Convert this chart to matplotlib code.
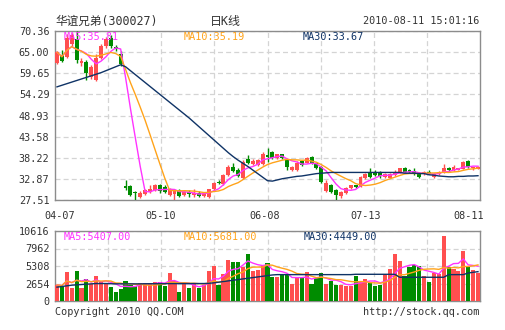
import numpy as np
import pandas as pd
import matplotlib
matplotlib.use("Agg")
import matplotlib.pyplot as plt

# ---- daily K-line (87 trading days, 04-07 .. 08-11) ----
opens = [62.2, 64.4, 63.7, 67.0, 68.3, 62.2, 62.6, 58.8, 57.9, 63.5, 66.6, 68.5, 66.3, 64.5,
         31.1, 31.0, 29.5, 28.3, 29.0, 29.6, 30.0, 31.3, 30.8, 28.9, 29.0, 30.0, 28.8, 29.6,
         28.8, 29.4, 28.6, 28.3, 30.3, 32.0, 31.6, 33.8, 36.0, 35.2, 33.0, 38.0, 36.6, 36.4,
         36.6, 39.0, 39.6, 38.1, 39.1, 37.7, 35.2, 35.0, 37.3, 37.0, 38.3, 36.8, 36.0, 29.8,
         31.3, 30.0, 28.4, 29.3, 30.5, 31.2, 30.8, 33.0, 34.4, 34.3, 34.3, 33.3, 33.2, 33.9,
         34.5, 35.5, 35.0, 34.9, 34.3, 34.0, 34.5, 33.4, 34.0, 34.6, 35.6, 35.1, 35.2, 35.4,
         37.3, 35.6, 35.4]
highs = [65.3, 65.5, 69.5, 69.8, 70.36, 63.5, 62.9, 61.8, 64.5, 67.0, 68.8, 69.3, 66.8, 65.3,
         32.6, 31.4, 29.7, 29.8, 30.4, 31.3, 31.6, 31.6, 31.2, 30.6, 30.0, 30.4, 30.0, 30.0,
         30.2, 29.8, 29.6, 30.3, 32.0, 32.5, 34.0, 36.3, 37.0, 35.5, 37.6, 39.0, 38.0, 37.8,
         39.6, 40.8, 40.0, 39.3, 39.3, 38.0, 36.1, 37.5, 37.6, 38.4, 38.6, 37.0, 36.2, 32.5,
         31.5, 30.3, 29.8, 30.9, 31.4, 31.3, 33.6, 34.3, 35.5, 35.2, 34.8, 34.3, 34.4, 35.0,
         35.7, 35.8, 35.4, 35.6, 34.5, 34.9, 35.0, 34.4, 34.9, 36.6, 36.0, 36.3, 35.7, 37.3,
         37.6, 36.0, 36.2]
lows = [61.9, 62.5, 63.5, 66.5, 62.2, 61.5, 58.0, 58.2, 57.6, 63.2, 66.0, 66.0, 65.3, 61.6,
        30.1, 28.6, 27.51, 28.0, 28.8, 29.3, 29.7, 29.2, 29.3, 28.5, 27.6, 28.3, 28.5, 28.2,
        28.3, 28.2, 28.2, 28.1, 30.0, 31.5, 31.4, 33.5, 34.5, 33.3, 32.8, 36.6, 36.3, 36.2,
        36.4, 37.2, 37.8, 37.9, 37.9, 35.2, 34.9, 34.9, 36.2, 36.9, 36.6, 35.3, 31.9, 29.6,
        29.4, 27.51, 28.1, 29.1, 30.4, 30.5, 30.7, 32.8, 33.2, 33.6, 33.2, 33.0, 33.0, 33.7,
        34.4, 34.3, 34.3, 33.9, 33.0, 33.8, 34.0, 33.1, 33.9, 34.4, 34.5, 34.9, 35.0, 35.3,
        35.7, 35.2, 35.3]
closes = [65.0, 62.7, 68.6, 69.3, 63.0, 62.8, 59.6, 61.3, 63.4, 66.5, 68.3, 66.5, 65.7, 62.0,
          30.5, 28.9, 29.3, 29.4, 30.1, 30.2, 31.2, 29.8, 29.6, 30.4, 29.9, 28.5, 29.6, 29.0,
          29.3, 28.6, 29.3, 30.2, 31.8, 31.8, 33.8, 35.8, 34.8, 33.6, 37.2, 36.9, 37.5, 37.6,
          39.3, 38.5, 38.2, 39.1, 38.1, 35.8, 36.0, 36.8, 36.4, 38.1, 36.8, 35.5, 32.2, 31.7,
          29.6, 28.8, 29.6, 30.6, 31.2, 30.7, 33.4, 34.0, 33.4, 33.9, 33.5, 34.1, 34.0, 34.7,
          35.5, 34.5, 34.6, 34.1, 33.4, 34.7, 34.0, 34.2, 34.7, 35.7, 35.0, 35.9, 35.5, 37.2,
          36.0, 35.9, 35.8]
volumes = [2430, 2280, 4450, 2000, 4550, 1900, 3290, 2580, 3790, 2930, 2700, 2170, 1420, 1820,
           3030, 2430, 2330, 2680, 2680, 2680, 2930, 2930, 2330, 4300, 3030, 1420, 2680, 2020,
           2680, 1920, 2430, 4550, 5360, 2430, 4040, 6220, 5910, 5910, 5200, 7130, 4600, 4700,
           5260, 5760, 3590, 3590, 3990, 4090, 2580, 3490, 3590, 4400, 2580, 3490, 4250, 2580,
           2980, 2480, 2380, 2220, 2220, 3840, 3030, 3340, 2730, 2220, 2480, 4090, 4900, 7130,
           6120, 3740, 5210, 5410, 5310, 3740, 2880, 4300, 4150, 9900, 5100, 4900, 4500, 7530,
           5360, 4700, 4300]
ma30_price = [56.2, 56.6, 57.0, 57.4, 57.8, 58.2, 58.6, 59.0, 59.4, 59.8, 60.3, 60.8, 61.3, 61.8,
              61.3, 60.3, 59.3, 58.3, 57.3, 56.3, 55.3, 54.3, 53.3, 52.3, 51.3, 50.3, 49.3, 48.3,
              47.2, 46.1, 45.0, 43.9, 42.8, 41.7, 40.6, 39.5, 38.5, 37.6, 36.8, 36.0, 35.1, 34.2,
              33.3, 32.4, 32.3, 32.6, 32.9, 33.1, 33.3, 33.5, 33.6, 33.8, 34.0, 34.2, 34.3, 34.4,
              34.5, 34.5, 34.5, 34.5, 34.5, 34.5, 34.5, 34.5, 34.5, 34.5, 34.5, 34.5, 34.5, 34.5,
              34.5, 34.3, 34.3, 34.3, 34.2, 34.2, 33.9, 33.8, 33.6, 33.5, 33.4, 33.4, 33.5, 33.5,
              33.6, 33.6, 33.67]
ma30_vol = [2100, 2200, 2300, 2400, 2450, 2500, 2550, 2600, 2650, 2650, 2650, 2620, 2600, 2600,
            2600, 2600, 2600, 2600, 2620, 2620, 2620, 2620, 2620, 2640, 2640, 2640, 2640, 2640,
            2650, 2650, 2650, 2680, 2750, 2850, 2950, 3050, 3150, 3250, 3350, 3450, 3550, 3650,
            3750, 3850, 3950, 4000, 4000, 4000, 4000, 4000, 4000, 4000, 4000, 4000, 4000, 4000,
            4000, 4000, 4000, 4000, 4000, 4050, 4050, 4050, 4050, 4050, 4050, 4050, 4050, 4050,
            3600, 3600, 3600, 3600, 3600, 3600, 3600, 3600, 3600, 3600, 4000, 4000, 4000, 4000,
            4250, 4350, 4449]

price_ticks = [27.51, 32.87, 38.22, 43.58, 48.93, 54.29, 59.65, 65.00, 70.36]
vol_ticks = [0, 2654, 5308, 7962, 10616]
date_labels = ["04-07", "05-10", "06-08", "07-13", "08-11"]
date_pos = [0.012, 0.249, 0.494, 0.732, 0.974]      # axes fraction
title_name = "华谊兄弟(300027)"
title_kind = "日K线"
stamp = "2010-08-11 15:01:16"
ma_price_txt = ["MA5:35.81", "MA10:35.19", "MA30:33.67"]
ma_vol_txt = ["MA5:5407.00", "MA10:5681.00", "MA30:4449.00"]

RED, GREEN = "#ff4f4f", "#008c00"
C5, C10, C30 = "#ff33ff", "#ffa31a", "#0f3366"
GRID = "#d4d4d4"
TXT = "#333333"
MONO = ["DejaVu Sans Mono", "Noto Sans CJK SC"]

W, H = 505, 330
fig = plt.figure(figsize=(W / 100, H / 100), dpi=100)
fig.patch.set_facecolor("white")

def px_box(l, t, r, b):
    return [l / W, 1 - b / H, (r - l) / W, (b - t) / H]

ax = fig.add_axes(px_box(55, 31, 480, 200))
axv = fig.add_axes(px_box(55, 231, 480, 301))

o = np.array(opens); c = np.array(closes)
x = np.arange(len(o))
up = c >= o
cols = np.where(up, RED, GREEN)
xmin, xmax = -0.41, len(o) - 0.59

# candles
ax.vlines(x, lows, highs, colors=cols, lw=1.0, zorder=3)
body = np.maximum(np.abs(c - o), 0.15)
ax.bar(x, body, bottom=np.minimum(o, c), width=0.8, color=cols, lw=0, zorder=3)

s = pd.Series(closes)
ax.plot(x, s.rolling(5, min_periods=1).mean(), color=C5, lw=1.0, zorder=4)
ax.plot(x, s.rolling(10, min_periods=1).mean(), color=C10, lw=1.0, zorder=4)
ax.plot(x, ma30_price, color=C30, lw=1.0, zorder=4)

# volume
axv.bar(x, volumes, width=0.85, color=cols, lw=0, zorder=3)
v = pd.Series(volumes)
axv.plot(x, v.rolling(5, min_periods=1).mean(), color=C5, lw=1.0, zorder=4)
axv.plot(x, v.rolling(10, min_periods=1).mean(), color=C10, lw=1.0, zorder=4)
axv.plot(x, ma30_vol, color=C30, lw=1.0, zorder=4)

vgrid = [xmin + k * (xmax - xmin) / 8 for k in range(1, 8)]
for a, lo, hi, ticks, fmt in [(ax, 27.51, 70.36, price_ticks, "{:.2f}"),
                              (axv, 0, 10616, vol_ticks, "{:d}")]:
    a.set_xlim(xmin, xmax)
    a.set_ylim(lo, hi)
    a.set_yticks(ticks)
    a.set_yticklabels([fmt.format(t) for t in ticks], fontsize=7.3, color=TXT,
                      family=MONO)
    a.set_xticks(vgrid)
    a.set_xticklabels([])
    a.tick_params(length=0, pad=4)
    a.grid(True, color=GRID, lw=0.9, ls=(0, (4, 2.5)), zorder=0)
    a.set_axisbelow(True)
    for sp in a.spines.values():
        sp.set_color("#8c8c8c")
        sp.set_linewidth(1.0)

# date labels under price panel
for lab, p in zip(date_labels, date_pos):
    ax.text(p, -0.095, lab, transform=ax.transAxes, ha="center", va="center",
            fontsize=7.3, color=TXT, family=MONO)

def ftext(px, py, s, **kw):
    fig.text(px / W, 1 - py / H, s, va="center", family=MONO, **kw)

ftext(55, 21, title_name, fontsize=8.4, color=TXT)
ftext(225, 21, title_kind, fontsize=8.6, color=TXT, ha="center")
ftext(479, 21, stamp, fontsize=7.3, color=TXT, ha="right")

for s_, px, colr in zip(ma_price_txt, [64, 184, 303], [C5, C10, C30]):
    ftext(px, 37, s_, fontsize=7.3, color=colr)
for s_, px, colr in zip(ma_vol_txt, [64, 184, 304], [C5, C10, C30]):
    ftext(px, 237, s_, fontsize=7.3, color=colr)

ftext(55, 312, "Copyright 2010 QQ.COM", fontsize=7.3, color=TXT)
ftext(479, 312, "http://stock.qq.com", fontsize=7.3, color=TXT, ha="right")

fig.savefig("out.png", dpi=100, facecolor="white")
